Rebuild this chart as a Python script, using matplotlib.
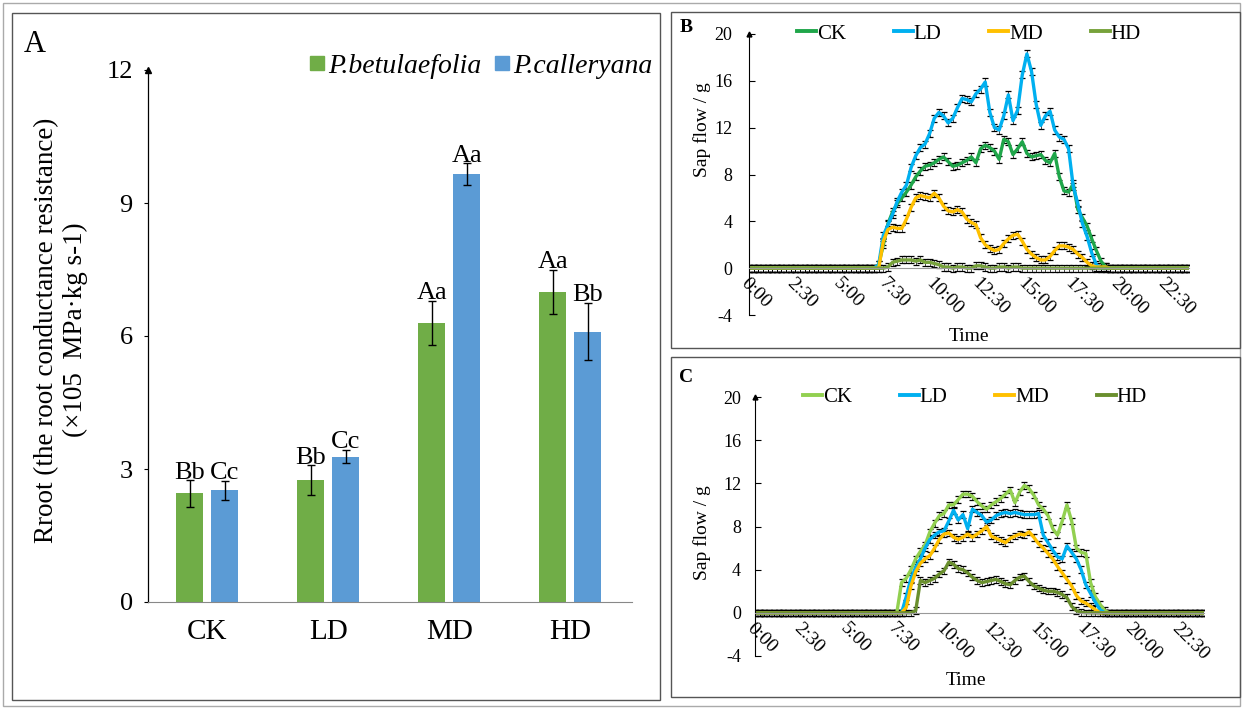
import numpy as np
import matplotlib
matplotlib.use('Agg')
import matplotlib.pyplot as plt
from matplotlib.patches import Rectangle
from matplotlib.lines import Line2D

plt.rcParams['font.family'] = ['Liberation Serif', 'DejaVu Serif']
plt.rcParams['axes.unicode_minus'] = False

# ---- panel A data ----
treatments = ['CK', 'LD', 'MD', 'HD']
betulaefolia = [2.45, 2.75, 6.3, 7.0]
betulaefolia_err = [0.3, 0.33, 0.5, 0.5]
calleryana = [2.52, 3.28, 9.65, 6.1]
calleryana_err = [0.22, 0.15, 0.25, 0.65]
betulaefolia_sig = ['Bb', 'Bb', 'Aa', 'Aa']
calleryana_sig = ['Cc', 'Cc', 'Aa', 'Bb']

# ---- panels B / C data (15-min steps, 0:00 - 23:45) ----
n_steps = 96
time_labels = ['0:00', '2:30', '5:00', '7:30', '10:00', '12:30', '15:00', '17:30', '20:00', '22:30']

# B: daytime values from 7:00 (step 28) to 19:30
b_start = 28
b_ck = [0.3, 2.0, 3.8, 4.8, 5.5, 6.0, 6.5, 7.1, 7.8, 8.3, 8.7, 8.8, 9.0, 9.3, 9.5, 9.1, 8.7,
        8.8, 9.0, 9.2, 9.5, 9.0, 10.2, 10.5, 10.3, 10.0, 9.3, 11.0, 10.8, 9.7, 10.2, 10.8,
        9.8, 9.5, 9.6, 9.7, 9.2, 9.0, 9.8, 7.8, 6.6, 6.5, 7.2, 5.0, 4.3, 3.6, 2.5, 1.5, 0.6,
        0.1, 0.0]
b_ld = [0.3, 2.8, 3.7, 4.6, 5.7, 6.5, 7.1, 8.6, 9.6, 10.3, 10.6, 11.5, 12.8, 13.3, 13.0,
        12.4, 12.8, 13.7, 14.5, 14.4, 14.2, 14.9, 15.3, 15.9, 13.3, 12.0, 11.8, 13.0, 14.8,
        12.6, 13.5, 16.5, 18.3, 16.8, 14.0, 12.2, 13.0, 13.4, 11.8, 11.2, 11.0, 10.2, 7.0,
        5.5, 3.8, 2.7, 1.3, 0.3, 0.0, 0.0, 0.0]
b_md = [0.0, 2.3, 3.3, 3.5, 3.4, 3.4, 4.2, 5.2, 6.0, 6.2, 6.1, 6.0, 6.4, 6.0, 5.3, 4.9, 4.8,
        5.0, 4.8, 4.2, 3.9, 3.7, 2.6, 2.0, 1.7, 1.5, 1.6, 2.1, 2.5, 2.8, 2.9, 2.3, 1.6, 1.2,
        0.9, 0.7, 0.7, 1.0, 1.5, 1.9, 1.9, 1.8, 1.6, 1.2, 0.9, 0.5, 0.2, 0.1, 0.1, 0.1, 0.0]
b_hd = [0.0, 0.0, 0.1, 0.5, 0.6, 0.7, 0.7, 0.7, 0.6, 0.7, 0.5, 0.5, 0.4, 0.3, 0.1, 0.1, 0.0,
        0.1, 0.1, 0.0, 0.0, 0.2, 0.2, 0.1, 0.0, 0.0, 0.1, 0.1, 0.0, 0.1, 0.1, 0.0]

# C: daytime values from 7:30 (step 30) to 19:00
c_start = 30
c_ck = [0.0, 2.8, 3.2, 4.0, 5.0, 5.7, 6.3, 7.5, 8.3, 9.0, 9.2, 10.0, 10.0, 10.5, 11.0, 11.0,
        10.8, 10.3, 9.9, 9.6, 10.0, 10.3, 10.6, 11.0, 11.4, 10.2, 11.2, 11.8, 11.5, 10.9,
        10.0, 9.6, 9.0, 7.8, 7.2, 8.5, 10.0, 8.5, 6.0, 5.6, 5.5, 2.8, 1.5, 0.8, 0.2, 0.0, 0.0]
c_ld = [0.0, 0.0, 1.5, 3.2, 4.2, 5.0, 6.0, 6.8, 7.2, 7.5, 7.6, 8.5, 9.5, 8.6, 9.1, 7.8, 9.6,
        9.3, 9.0, 8.4, 8.6, 9.0, 9.2, 9.3, 9.2, 9.3, 9.2, 9.1, 9.1, 9.1, 9.2, 7.2, 6.5, 5.8,
        5.2, 5.0, 6.2, 5.6, 5.0, 4.0, 2.6, 1.8, 1.0, 0.3, 0.0, 0.0, 0.0]
c_md = [0.0, 0.0, 0.5, 2.5, 3.8, 4.6, 5.0, 5.3, 6.0, 6.8, 7.3, 7.4, 7.0, 6.8, 7.0, 7.3, 7.0,
        7.3, 7.6, 8.0, 7.1, 6.9, 6.7, 6.5, 6.9, 7.1, 7.3, 7.2, 7.5, 7.0, 6.4, 6.0, 5.5, 5.0,
        4.3, 3.7, 3.1, 2.5, 1.6, 1.1, 0.9, 0.6, 0.3, 0.0, 0.0, 0.0, 0.0]
c_hd = [0.0, 0.0, 0.0, 0.0, 0.2, 3.0, 2.8, 3.0, 3.2, 3.6, 3.9, 4.7, 4.5, 4.1, 4.0, 3.7, 3.3,
        3.0, 2.8, 2.9, 3.0, 3.1, 2.9, 2.7, 2.6, 3.0, 3.3, 3.4, 2.9, 2.5, 2.3, 2.1, 2.0, 2.0,
        1.9, 1.7, 1.4, 0.6, 0.2, 0.05, 0.0]
sap_err = 0.3

series_names = ['CK', 'LD', 'MD', 'HD']
colors_b = ['#1FA64A', '#00B0F0', '#FFC000', '#77A23B']
colors_c = ['#92D050', '#00B0F0', '#FFC000', '#6A8F2E']


def full_day(start, vals):
    return np.r_[np.zeros(start), vals, np.zeros(n_steps - start - len(vals))]


W, H = 1243, 709
fig = plt.figure(figsize=(W / 100, H / 100), dpi=100)


# frames
def box(x0, y0, x1, y1, ec='#555555'):
    fig.add_artist(Rectangle((x0 / W, 1 - y1 / H), (x1 - x0) / W, (y1 - y0) / H,
                             transform=fig.transFigure, fill=False, ec=ec, lw=1))


box(3, 3, 1240, 706, ec='#aaaaaa')
box(12, 13, 660, 700)
box(671, 12, 1240, 348)
box(671, 357, 1240, 697)

# ---- panel A ----
axA = fig.add_axes([148 / W, 1 - 602 / H, 484 / W, 532 / H])
x = np.arange(len(treatments))
off, bw = 0.145, 0.225
ekw = dict(ecolor='black', capsize=3, elinewidth=1, capthick=1)
axA.bar(x - off, betulaefolia, bw, yerr=betulaefolia_err, color='#70AD47', error_kw=ekw)
axA.bar(x + off, calleryana, bw, yerr=calleryana_err, color='#5B9BD5', error_kw=ekw)
for i in range(len(treatments)):
    axA.text(x[i] - off, betulaefolia[i] + betulaefolia_err[i] - 0.08, betulaefolia_sig[i],
             ha='center', va='bottom', fontsize=19)
    axA.text(x[i] + off, calleryana[i] + calleryana_err[i] - 0.08, calleryana_sig[i],
             ha='center', va='bottom', fontsize=19)
axA.set_xlim(-0.49, 3.51)
axA.set_ylim(0, 12)
axA.set_yticks([0, 3, 6, 9, 12])
axA.set_xticks(x)
axA.set_xticklabels(treatments)
for s in ['top', 'right']:
    axA.spines[s].set_visible(False)
axA.spines['bottom'].set_color('#888888')
axA.spines['left'].set_linewidth(0.9)
axA.tick_params(axis='x', length=0, pad=12, labelsize=21)
axA.tick_params(axis='y', length=3, pad=8, labelsize=19)
axA.plot([0], [1], marker='^', color='black', ms=4, transform=axA.transAxes, clip_on=False)

fig.text(61 / W, 1 - 330 / H, 'Rroot (the root conductance resistance)\n(×105  MPa·kg s-1)',
         rotation=90, ha='center', va='center', multialignment='center', fontsize=19.5,
         linespacing=1.2)
fig.text(35 / W, 1 - 45 / H, 'A', fontsize=22, ha='center', va='center')
handles = [Line2D([], [], marker='s', ls='none', color='#70AD47', ms=10),
           Line2D([], [], marker='s', ls='none', color='#5B9BD5', ms=10)]
fig.legend(handles, ['P.betulaefolia', 'P.calleryana'], loc='center',
           bbox_to_anchor=(480 / W, 1 - 66 / H), ncol=2, frameon=False,
           prop=dict(style='italic', size=20), handletextpad=0.05, columnspacing=0.4,
           handlelength=0.7)


# ---- panels B and C ----
def sap_panel(rect, start, data, colors, letter, letter_xy, ylab_xy, time_x, time_y, leg_x,
              ypad):
    ax = fig.add_axes(rect)
    t = np.arange(n_steps)
    for name, vals, c in zip(series_names, data, colors):
        ax.errorbar(t, full_day(start, vals), yerr=sap_err, color=c, lw=2.4, ecolor='black',
                    elinewidth=0.5, capsize=1.9, capthick=0.9, label=name)
    ax.set_xlim(0, n_steps - 1)
    ax.set_ylim(-4, 20)
    ax.set_yticks(range(-4, 21, 4))
    for s in ['top', 'right']:
        ax.spines[s].set_visible(False)
    ax.spines['bottom'].set_position(('data', 0))
    ax.spines['bottom'].set_color('#999999')
    ax.spines['left'].set_linewidth(0.8)
    ax.tick_params(axis='x', length=0, pad=5)
    ax.tick_params(axis='y', direction='in', length=4, pad=ypad, labelsize=13)
    ax.set_xticks(range(0, 91, 10))
    ax.set_xticklabels(time_labels, rotation=-45, ha='left', va='top',
                       rotation_mode='anchor', fontsize=14)
    ax.plot([0], [1], marker='^', color='black', ms=3.5, transform=ax.transAxes, clip_on=False)
    ax.text(time_x, time_y, 'Time', transform=ax.transAxes, ha='center', va='center',
            fontsize=14)
    fig.text(ylab_xy[0] / W, 1 - ylab_xy[1] / H, 'Sap flow / g', rotation=90, ha='center',
             va='center', fontsize=14)
    fig.text(letter_xy[0] / W, 1 - letter_xy[1] / H, letter, fontsize=14, fontweight='bold',
             ha='center', va='center')
    hs = [Line2D([], [], color=c, lw=2.8) for c in colors]
    ax.legend(hs, series_names, loc='center', bbox_to_anchor=(leg_x, 1.0), ncol=4,
              frameon=False, fontsize=15, handlelength=0.9, handletextpad=0.05,
              columnspacing=2.3)
    return ax


sap_panel([749 / W, 1 - 315 / H, 440 / W, 281 / H], b_start, [b_ck, b_ld, b_md, b_hd],
          colors_b, 'B', (686, 27), (702, 130), 0.5, -0.075, 0.5, 12)
sap_panel([755 / W, 1 - 656 / H, 449 / W, 259 / H], c_start, [c_ck, c_ld, c_md, c_hd],
          colors_c, 'C', (686, 378), (702, 533), 0.47, -0.093, 0.49, 10)

fig.savefig('out.png', dpi=100)
